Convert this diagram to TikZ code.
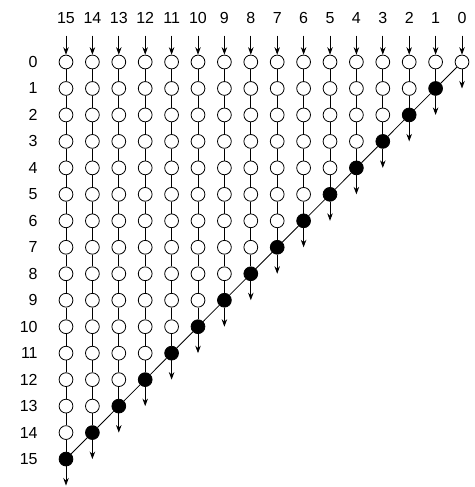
\documentclass[tikz,border=0pt]{standalone}
\usepackage{fontspec}
\setmainfont{Liberation Sans}
\usetikzlibrary{arrows.meta}

\begin{document}
\begin{tikzpicture}[
x=26.4pt, y=-26.47pt,
>={Stealth[length=7.5pt,width=5.5pt]},
line width=0.8pt,
bit/.style={draw, circle, minimum size=13.8pt, inner sep=0pt},
open/.style={bit, fill=white},
solid dot/.style={bit, fill=black},
label/.style={font=\fontsize{16}{16}\selectfont, inner sep=0pt}
]

\useasboundingbox (-2.5, -2.342) rectangle (15.492, 16.056);

% ================= Nodes =================

% Row numbers (left)
\foreach \r in {0,...,15}
  \node[label, anchor=east] (row\r) at (-1.06, \r) {\r};

% Columns, numbered from the right
\foreach \c in {0,...,15} {
  \pgfmathtruncatemacro{\x}{15-\c}
  \pgfmathtruncatemacro{\b}{\c+1}
  \node[label] (col\c) at (\x, -1.66) {\c};
  \coordinate (in\c) at (\x, -1);
  \coordinate (out\c) at (\x, \b);
  \foreach \r in {0,...,\c} {
    \ifnum\r=\c
      \ifnum\c=0
        \node[open] (n\c-\r) at (\x, \r) {};
      \else
        \node[solid dot] (n\c-\r) at (\x, \r) {};
      \fi
    \else
      \node[open] (n\c-\r) at (\x, \r) {};
    \fi
  }
}

% ================= Edges =================

% Vertical lines through each column
\foreach \c in {0,...,15} {
  \draw[->] (in\c) -- (n\c-0);
  \draw[->] (n\c-\c) -- (out\c);
  \ifnum\c>0
    \pgfmathtruncatemacro{\last}{\c-1}
    \foreach \r in {0,...,\last} {
      \pgfmathtruncatemacro{\s}{\r+1}
      \draw (n\c-\r) -- (n\c-\s);
    }
  \fi
}

% Diagonal through the filled nodes
\foreach \c in {1,...,15} {
  \pgfmathtruncatemacro{\p}{\c-1}
  \draw (n\p-\p) -- (n\c-\c);
}

\end{tikzpicture}
\end{document}
